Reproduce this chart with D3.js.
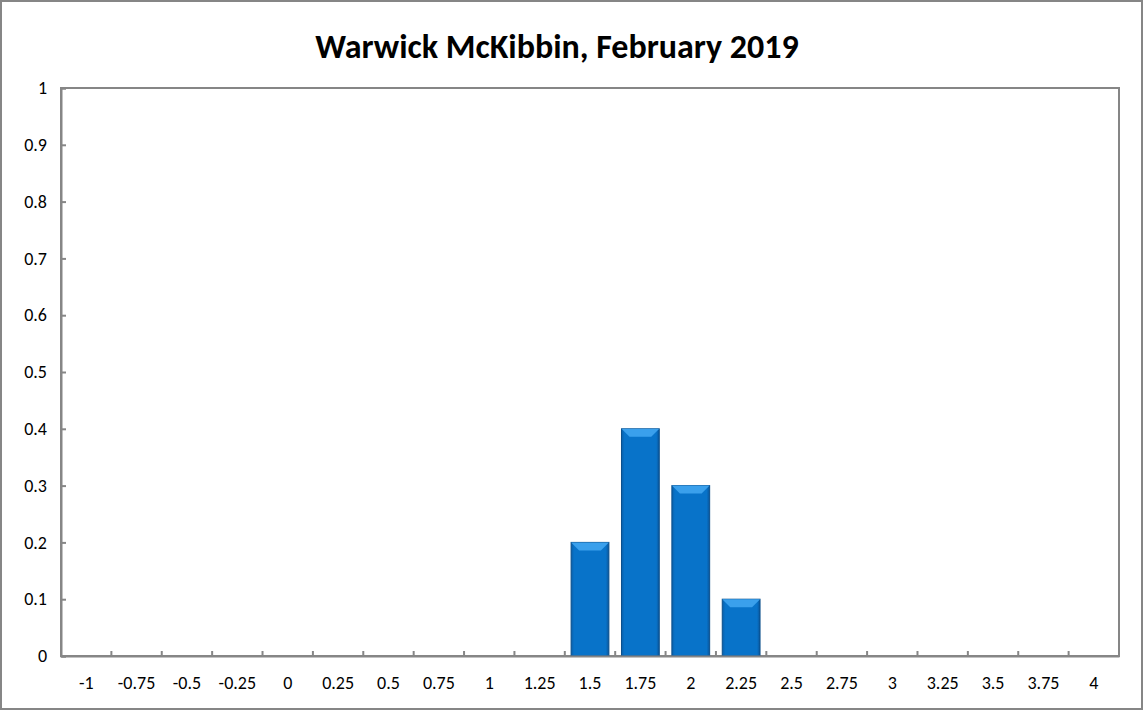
<!DOCTYPE html>
<html><head><meta charset="utf-8">
<script src="https://cdn.jsdelivr.net/npm/d3@7"></script>
<style>body{margin:0;background:#fff}</style>
</head><body>
<svg id="chart" width="1143" height="710"></svg>
<script>
const categories = ["-1","-0.75","-0.5","-0.25","0","0.25","0.5","0.75","1","1.25","1.5","1.75","2","2.25","2.5","2.75","3","3.25","3.5","3.75","4"];
const values = [0,0,0,0,0,0,0,0,0,0,0.2,0.4,0.3,0.1,0,0,0,0,0,0,0];
const yTicks = [0,0.1,0.2,0.3,0.4,0.5,0.6,0.7,0.8,0.9,1];

const margin = { left: 61, right: 24, top: 88, bottom: 54 };
const width = 1143, height = 710;
const svg = d3.select("#chart");
const font = "Calibri, Carlito, 'Liberation Sans', sans-serif";

svg.append("rect").attr("x", 1).attr("y", 1).attr("width", width - 2).attr("height", height - 2)
  .attr("fill", "#fff").attr("stroke", "#868686").attr("stroke-width", 2);

svg.append("text").attr("x", 557).attr("y", 58).attr("text-anchor", "middle")
  .style("font-family", font).style("font-size", "34px").style("font-weight", "bold")
  .text("Warwick McKibbin, February 2019");

const x = d3.scaleBand().domain(categories).range([margin.left, width - margin.right]).paddingInner(0.25).paddingOuter(0.125);
const y = d3.scaleLinear().domain([0, 1]).range([height - margin.bottom, margin.top]);

const defs = svg.append("defs");
const grad = defs.append("linearGradient").attr("id", "barg").attr("x1", 0).attr("x2", 1).attr("y1", 0).attr("y2", 0);
grad.append("stop").attr("offset", "0%").attr("stop-color", "#0a5fa8");
grad.append("stop").attr("offset", "8%").attr("stop-color", "#0873c9");
grad.append("stop").attr("offset", "92%").attr("stop-color", "#0873c9");
grad.append("stop").attr("offset", "100%").attr("stop-color", "#0a5599");

// plot box
svg.append("rect").attr("x", margin.left).attr("y", margin.top)
  .attr("width", width - margin.left - margin.right).attr("height", height - margin.top - margin.bottom)
  .attr("fill", "none").attr("stroke", "#868686").attr("stroke-width", 2);

const bars = svg.append("g").selectAll("g").data(values.map((v, i) => ({ c: categories[i], v })).filter(d => d.v > 0))
  .enter().append("g");
bars.append("rect").attr("x", d => x(d.c)).attr("y", d => y(d.v))
  .attr("width", x.bandwidth()).attr("height", d => y(0) - y(d.v))
  .attr("fill", "url(#barg)").attr("stroke", "#0a4f8c").attr("stroke-width", 1);
bars.append("path").attr("d", d => {
  const x0 = x(d.c), x1 = x0 + x.bandwidth(), t = y(d.v);
  return `M${x0},${t}L${x1},${t}L${x1 - 8},${t + 8}L${x0 + 8},${t + 8}Z`;
}).attr("fill", "#3aa0ec");

// y axis
const yAxis = svg.append("g").attr("transform", `translate(${margin.left},0)`)
  .call(d3.axisLeft(y).tickValues(yTicks).tickSize(-5).tickPadding(14).tickFormat(d3.format("")));
yAxis.select(".domain").attr("stroke", "#868686").attr("stroke-width", 2);
yAxis.selectAll(".tick line").attr("stroke", "#868686").attr("stroke-width", 2);
yAxis.selectAll("text").style("font-family", font).style("font-size", "18px").attr("fill", "#000");

// x axis
const xAxis = svg.append("g").attr("transform", `translate(0,${y(0)})`)
  .call(d3.axisBottom(x).tickSize(0).tickPadding(20));
xAxis.select(".domain").attr("stroke", "#868686").attr("stroke-width", 2);
xAxis.selectAll("text").style("font-family", font).style("font-size", "18px").attr("fill", "#000");
const step = x.step();
svg.append("g").selectAll("line").data(categories.slice(1)).enter().append("line")
  .attr("x1", d => x(d) - step * 0.125).attr("x2", d => x(d) - step * 0.125)
  .attr("y1", y(0)).attr("y2", y(0) - 5).attr("stroke", "#868686").attr("stroke-width", 2);
</script>
</body></html>
